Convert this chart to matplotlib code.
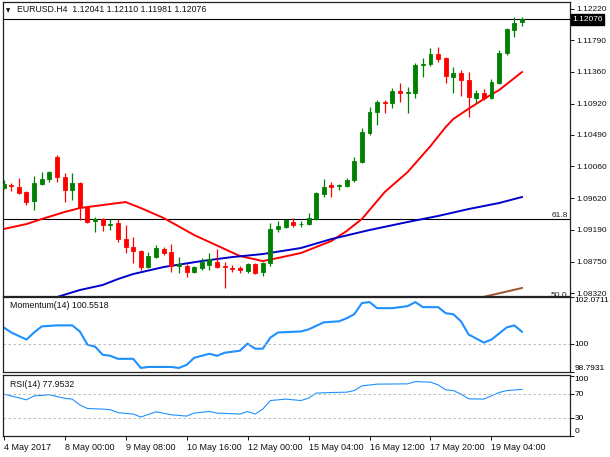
import matplotlib

matplotlib.use("Agg")
import matplotlib.pyplot as plt
import matplotlib.transforms as mtransforms
import numpy as np

# --- EURUSD H4 candles, 4 May 16:00 .. 19 May 2017 ---------------------------
opens = [1.09762, 1.09803, 1.09775, 1.09707, 1.09583, 1.09817, 1.09885, 1.10187, 1.09913, 1.09734,
         1.09830, 1.09501, 1.09309, 1.09336, 1.09254, 1.09281, 1.09061, 1.08952, 1.08897, 1.08677,
         1.08814, 1.08924, 1.08883, 1.08691, 1.08691, 1.08608, 1.08663, 1.08704, 1.08746, 1.08691,
         1.08670, 1.08663, 1.08622, 1.08718, 1.08608, 1.08732, 1.09199, 1.09226, 1.09295, 1.09261,
         1.09267, 1.09336, 1.09679, 1.09803, 1.09789, 1.09789, 1.09872, 1.10119, 1.10517, 1.10805,
         1.10942, 1.10929, 1.11093, 1.11073, 1.11066, 1.11450, 1.11464, 1.11601, 1.11547, 1.11286,
         1.11341, 1.11244, 1.10997, 1.11066, 1.10997, 1.11203, 1.11615, 1.11931, 1.12041]
highs = [1.09872, 1.09830, 1.09899, 1.09720, 1.09926, 1.09981, 1.09995, 1.10215, 1.09968, 1.09968,
         1.09844, 1.09515, 1.09364, 1.09350, 1.09336, 1.09336, 1.09254, 1.09089, 1.08910, 1.08883,
         1.08979, 1.08952, 1.08993, 1.08814, 1.08718, 1.08691, 1.08801, 1.08869, 1.08924, 1.08746,
         1.08704, 1.08691, 1.08732, 1.08732, 1.08746, 1.09281, 1.09309, 1.09336, 1.09350, 1.09309,
         1.09418, 1.09707, 1.09885, 1.09844, 1.09817, 1.09899, 1.10187, 1.10585, 1.10874, 1.10970,
         1.10970, 1.11135, 1.11203, 1.11148, 1.11478, 1.11547, 1.11684, 1.11698, 1.11560, 1.11423,
         1.11382, 1.11354, 1.11107, 1.11121, 1.11258, 1.11656, 1.11958, 1.12110, 1.12110]
lows = [1.09748, 1.09720, 1.09679, 1.09528, 1.09460, 1.09803, 1.09844, 1.09844, 1.09569, 1.09597,
        1.09322, 1.09281, 1.09158, 1.09171, 1.09185, 1.09020, 1.08869, 1.08732, 1.08636, 1.08663,
        1.08801, 1.08842, 1.08608, 1.08595, 1.08540, 1.08595, 1.08636, 1.08636, 1.08663, 1.08389,
        1.08608, 1.08595, 1.08595, 1.08581, 1.08553, 1.08691, 1.09158, 1.09212, 1.09226, 1.09226,
        1.09254, 1.09322, 1.09638, 1.09638, 1.09734, 1.09775, 1.09844, 1.10105, 1.10489, 1.10627,
        1.10791, 1.10860, 1.10942, 1.10791, 1.10997, 1.11286, 1.11437, 1.11492, 1.11203, 1.11066,
        1.11025, 1.10736, 1.10929, 1.10970, 1.10984, 1.11190, 1.11588, 1.11835, 1.11981]
closes = [1.09817, 1.09789, 1.09693, 1.09569, 1.09830, 1.09885, 1.09981, 1.09913, 1.09734, 1.09830,
          1.09501, 1.09295, 1.09336, 1.09254, 1.09267, 1.09061, 1.08952, 1.08897, 1.08677, 1.08828,
          1.08938, 1.08869, 1.08691, 1.08718, 1.08608, 1.08677, 1.08746, 1.08787, 1.08677, 1.08677,
          1.08656, 1.08636, 1.08718, 1.08595, 1.08732, 1.09199, 1.09240, 1.09322, 1.09254, 1.09274,
          1.09350, 1.09693, 1.09775, 1.09782, 1.09803, 1.09872, 1.10132, 1.10531, 1.10805, 1.10942,
          1.10929, 1.11093, 1.11066, 1.11080, 1.11450, 1.11464, 1.11601, 1.11533, 1.11299, 1.11341,
          1.11244, 1.11011, 1.11066, 1.10997, 1.11217, 1.11615, 1.11945, 1.12027, 1.12076]

# moving averages (bar index, price)
red_idx = [0, 3, 5, 8, 10, 13, 16, 18, 21, 25, 29, 31, 34, 36, 39, 43, 45, 47, 50, 53, 56, 58, 59, 61, 63, 65, 68]
red_val = [1.09199, 1.09267, 1.09336, 1.09432, 1.09487, 1.09528, 1.09569, 1.09487, 1.09350, 1.09116,
           1.08924, 1.08828, 1.08759, 1.08801, 1.08869, 1.09034, 1.09171, 1.09336, 1.09707, 1.09981,
           1.10338, 1.10600, 1.10710, 1.10850, 1.10984, 1.11107, 1.11354]
blue_idx = [7, 10, 13, 15, 17, 21, 26, 30, 34, 39, 43, 48, 53, 57, 61, 65, 68]
blue_val = [1.08265, 1.08361, 1.08430, 1.08512, 1.08581, 1.08677, 1.08759, 1.08814, 1.08855, 1.08938,
            1.09061, 1.09185, 1.09295, 1.09378, 1.09473, 1.09556, 1.09638]
brown_idx = [62, 65, 68]
brown_val = [1.08244, 1.08316, 1.08389]

fib_names = ["61.8", "50.0"]
fib_prices = [1.09336, 1.08240]

price_ticks = [1.12220, 1.11790, 1.11360, 1.10920, 1.10490, 1.10060, 1.09620, 1.09190, 1.08750, 1.08320]
last_price = 1.12076

mom_idx = [0, 1, 3, 4, 5, 7, 9, 10, 11, 12, 13, 14, 15, 17, 18, 19, 22, 23, 24, 25,
           27, 28, 29, 31, 32, 33, 34, 35, 36, 39, 40, 42, 44, 45, 46, 47, 48, 49, 51, 53,
           54, 55, 57, 58, 59, 60, 61, 63, 64, 66, 67, 68]
mom_val = [100.742, 100.521, 100.211, 100.521, 100.786, 100.831, 100.831, 100.565, 99.989, 99.900,
           99.546, 99.502, 99.369, 99.369, 98.970, 99.014, 99.014, 98.970, 99.103, 99.413,
           99.590, 99.502, 99.635, 99.723, 100.033, 99.812, 99.812, 100.299, 100.521, 100.565,
           100.654, 100.964, 101.008, 101.141, 101.318, 101.805, 101.850, 101.584, 101.584, 101.672,
           101.850, 101.628, 101.628, 101.362, 101.318, 101.008, 100.432, 100.078, 100.211, 100.742,
           100.831, 100.5518]
mom_max, mom_min = 102.0711, 98.7931

rsi_idx = [0, 1, 3, 4, 6, 8, 9, 10, 11, 13, 14, 15, 17, 18, 20, 22, 24, 25, 27, 28,
           31, 32, 33, 34, 35, 37, 39, 40, 41, 43, 45, 46, 47, 49, 53, 54, 56, 57, 58, 59,
           60, 61, 63, 64, 65, 66, 68]
rsi_val = [70, 67, 60.5, 67, 69, 63, 61.7, 52, 46, 45, 44, 39, 36.7, 31.7, 40.5, 35.5, 33.3, 38.3, 41, 38.3,
           36.7, 41, 36.7, 45, 59.3, 61.7, 59.3, 63.3, 71.7, 72.7, 73.3, 76, 83.8, 86.7, 87.2, 91, 90, 85.5, 77.2, 76,
           70, 62.2, 61.7, 67.2, 72.7, 76, 77.9532]

time_idx = [0, 8, 16, 24, 32, 40, 48, 56, 64]
time_labels = ["4 May 2017", "8 May 00:00", "9 May 08:00", "10 May 16:00", "12 May 00:00",
               "15 May 04:00", "16 May 12:00", "17 May 20:00", "19 May 04:00"]

FS = 6.0
FS_T = 6.3
plt.rcParams["font.family"] = ["Liberation Sans", "DejaVu Sans"]
plt.rcParams["font.size"] = FS

W, H = 610, 457
fig = plt.figure(figsize=(W / 100, H / 100), dpi=100)


def px_axes(left, top, right, bottom):
    return fig.add_axes([left / W, 1 - bottom / H, (right - left) / W, (bottom - top) / H])


ax = px_axes(3, 2, 570, 296)
axm = px_axes(3, 297, 570, 372)
axr = px_axes(3, 375, 570, 436)

XLIM = (-0.08, 74.3)
for a in (ax, axm, axr):
    a.set_xlim(*XLIM)
    for s in a.spines.values():
        s.set_linewidth(0.9)
        s.set_color("#222222")
    a.yaxis.tick_right()
    a.tick_params(axis="y", direction="out", length=3, width=0.7, pad=1.5, labelsize=FS, colors="#111111")
    a.tick_params(axis="x", bottom=False, labelbottom=False)

# --- main price panel --------------------------------------------------------
x = np.arange(len(closes))
o = np.array(opens)
c = np.array(closes)
cols = ["#008000" if cc >= oo else "#ff0000" for oo, cc in zip(o, c)]
ax.vlines(x, lows, highs, colors=cols, linewidth=0.9, zorder=3)
ax.bar(x, c - o, bottom=o, width=0.52, color=cols, edgecolor=cols, linewidth=0.6, zorder=4)

ax.plot(red_idx, red_val, color="#ff0000", lw=1.4, zorder=2)
ax.plot(blue_idx, blue_val, color="#0000cc", lw=1.4, zorder=2)
ax.plot(brown_idx, brown_val, color="#a0522d", lw=1.4, zorder=2)

for name, p in zip(fib_names, fib_prices):
    ax.axhline(p, color="black", lw=0.8, zorder=1)
    ax.text(74.0, p, name, ha="right", va="bottom", fontsize=FS, color="#222222", clip_on=True)

ax.axhline(last_price, color="black", lw=0.8, zorder=1)
ax.set_ylim(1.08279, 1.12316)
ax.set_yticks(price_ticks)
ax.set_yticklabels([f"{v:.5f}" for v in price_ticks])
trans = mtransforms.blended_transform_factory(ax.transAxes, ax.transData)
ax.text(1.004, last_price, f"{last_price:.5f}", transform=trans, ha="left", va="center",
        color="white", fontsize=FS, clip_on=False,
        bbox=dict(boxstyle="square,pad=0.2", facecolor="black", edgecolor="black"))

fig.text(6 / W, 1 - 10.5 / H, "\u25bc", fontsize=4, va="center", ha="left", color="#111111",
         family="DejaVu Sans")
fig.text(17 / W, 1 - 10 / H, "EURUSD.H4  1.12041 1.12110 1.11981 1.12076",
         fontsize=FS_T, va="center", ha="left", color="#111111")

# --- momentum panel ----------------------------------------------------------
axm.plot(mom_idx, mom_val, color="#1e90ff", lw=1.5)
axm.axhline(100, color="#b0b0b0", lw=0.6, ls=(0, (3, 3)))
axm.set_ylim(mom_min, mom_max)
axm.set_yticks([mom_max, 100, mom_min])
axm.set_yticklabels([])
tm = mtransforms.blended_transform_factory(axm.transAxes, axm.transData)
axm.text(1.008, mom_max, f"{mom_max:.4f}", transform=tm, ha="left", va="top", fontsize=FS)
axm.text(1.008, 100, "100", transform=tm, ha="left", va="center", fontsize=FS)
axm.text(1.008, mom_min, f"{mom_min:.4f}", transform=tm, ha="left", va="bottom", fontsize=FS)
axm.text(7 / 567, 0.88, "Momentum(14) 100.5518", transform=axm.transAxes, ha="left", va="center",
         fontsize=FS_T, color="#111111")

# --- RSI panel ---------------------------------------------------------------
axr.plot(rsi_idx, rsi_val, color="#1e90ff", lw=0.8)
for lvl in (70, 30):
    axr.axhline(lvl, color="#b0b0b0", lw=0.6, ls=(0, (3, 3)))
axr.set_ylim(0, 102)
axr.set_yticks([100, 70, 30, 0])
axr.set_yticklabels([])
tr = mtransforms.blended_transform_factory(axr.transAxes, axr.transData)
axr.text(1.008, 101, "100", transform=tr, ha="left", va="top", fontsize=FS)
axr.text(1.008, 70, "70", transform=tr, ha="left", va="center", fontsize=FS)
axr.text(1.008, 30, "30", transform=tr, ha="left", va="center", fontsize=FS)
axr.text(1.008, 1, "0", transform=tr, ha="left", va="bottom", fontsize=FS)
axr.text(7 / 567, 0.85, "RSI(14) 77.9532", transform=axr.transAxes, ha="left", va="center",
         fontsize=FS_T, color="#111111")

axr.tick_params(axis="x", bottom=True, labelbottom=True, direction="out", length=3, width=0.7,
                pad=2, labelsize=FS + 0.5, colors="#111111")
axr.set_xticks(time_idx)
axr.set_xticklabels(time_labels, ha="left")

fig.savefig("out.png", dpi=100)
